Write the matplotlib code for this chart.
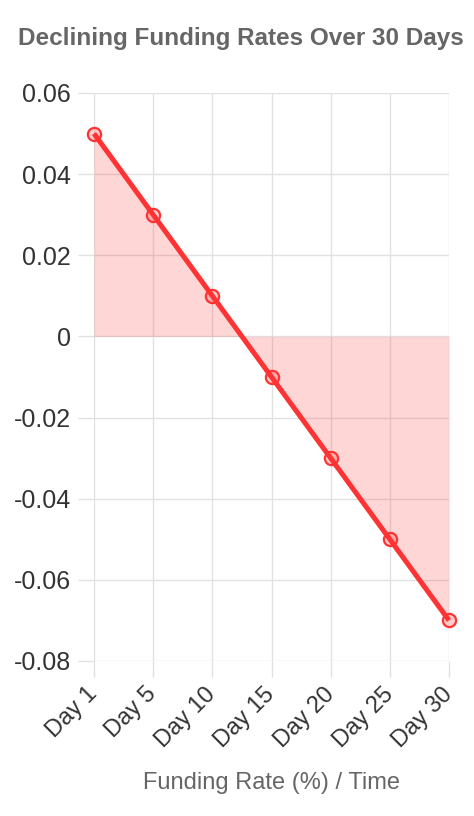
import matplotlib
matplotlib.use("Agg")
import matplotlib.pyplot as plt
from matplotlib.ticker import FuncFormatter, MultipleLocator

categories = ["Day 1", "Day 5", "Day 10", "Day 15", "Day 20", "Day 25", "Day 30"]
values = [0.05, 0.03, 0.01, -0.01, -0.03, -0.05, -0.07]
title = "Declining Funding Rates Over 30 Days"
xlabel = "Funding Rate (%) / Time"

plt.rcParams['font.family'] = ['Liberation Sans', 'DejaVu Sans']

fig = plt.figure(figsize=(4.74, 8.16), dpi=100)
ax = fig.add_axes([94/474, 1-661/816, (449-94)/474, (661-93)/816])

x = list(range(len(categories)))
ax.fill_between(x, values, 0, color=(1, 0.2, 0.2, 0.2), linewidth=0, zorder=1)
ax.plot(x, values, color='#ff3333', linewidth=3.6, zorder=3,
        marker='o', markersize=9.5, markerfacecolor=(1, 0.2, 0.2, 0.25),
        markeredgecolor='#ff3333', markeredgewidth=1.6, solid_capstyle='butt',
        clip_on=False)

ax.set_xlim(0, len(categories) - 1)
ax.set_ylim(-0.08, 0.06)
ax.yaxis.set_major_locator(MultipleLocator(0.02))

def fmt(v, pos):
    s = f"{v:.2f}".rstrip('0').rstrip('.')
    if s in ("-0", "0"):
        return "0"
    return s
ax.yaxis.set_major_formatter(FuncFormatter(fmt))
ax.set_xticks(x)
ax.set_xticklabels(categories, rotation=45, ha='right', va='center',
                   rotation_mode='anchor')

ax.grid(True, color='#e1e1e1', linewidth=1)
ax.set_axisbelow(True)
for s in ax.spines.values():
    s.set_visible(False)
ax.tick_params(axis='both', length=11.5, color='#e1e1e1', width=1, labelcolor='#333333')
ax.tick_params(axis='y', labelsize=18, pad=5)
ax.tick_params(axis='x', labelsize=17, pad=10)

ax.set_xlabel(xlabel, fontsize=17, color='#666666', va='center')
ax.xaxis.set_label_coords(0.5, (661-783)/568)
fig.text(240.5/474, 1-38/816, title, ha='center', va='center', fontsize=17.5,
         fontweight='bold', color='#666666')

fig.savefig("out.png", dpi=100)
